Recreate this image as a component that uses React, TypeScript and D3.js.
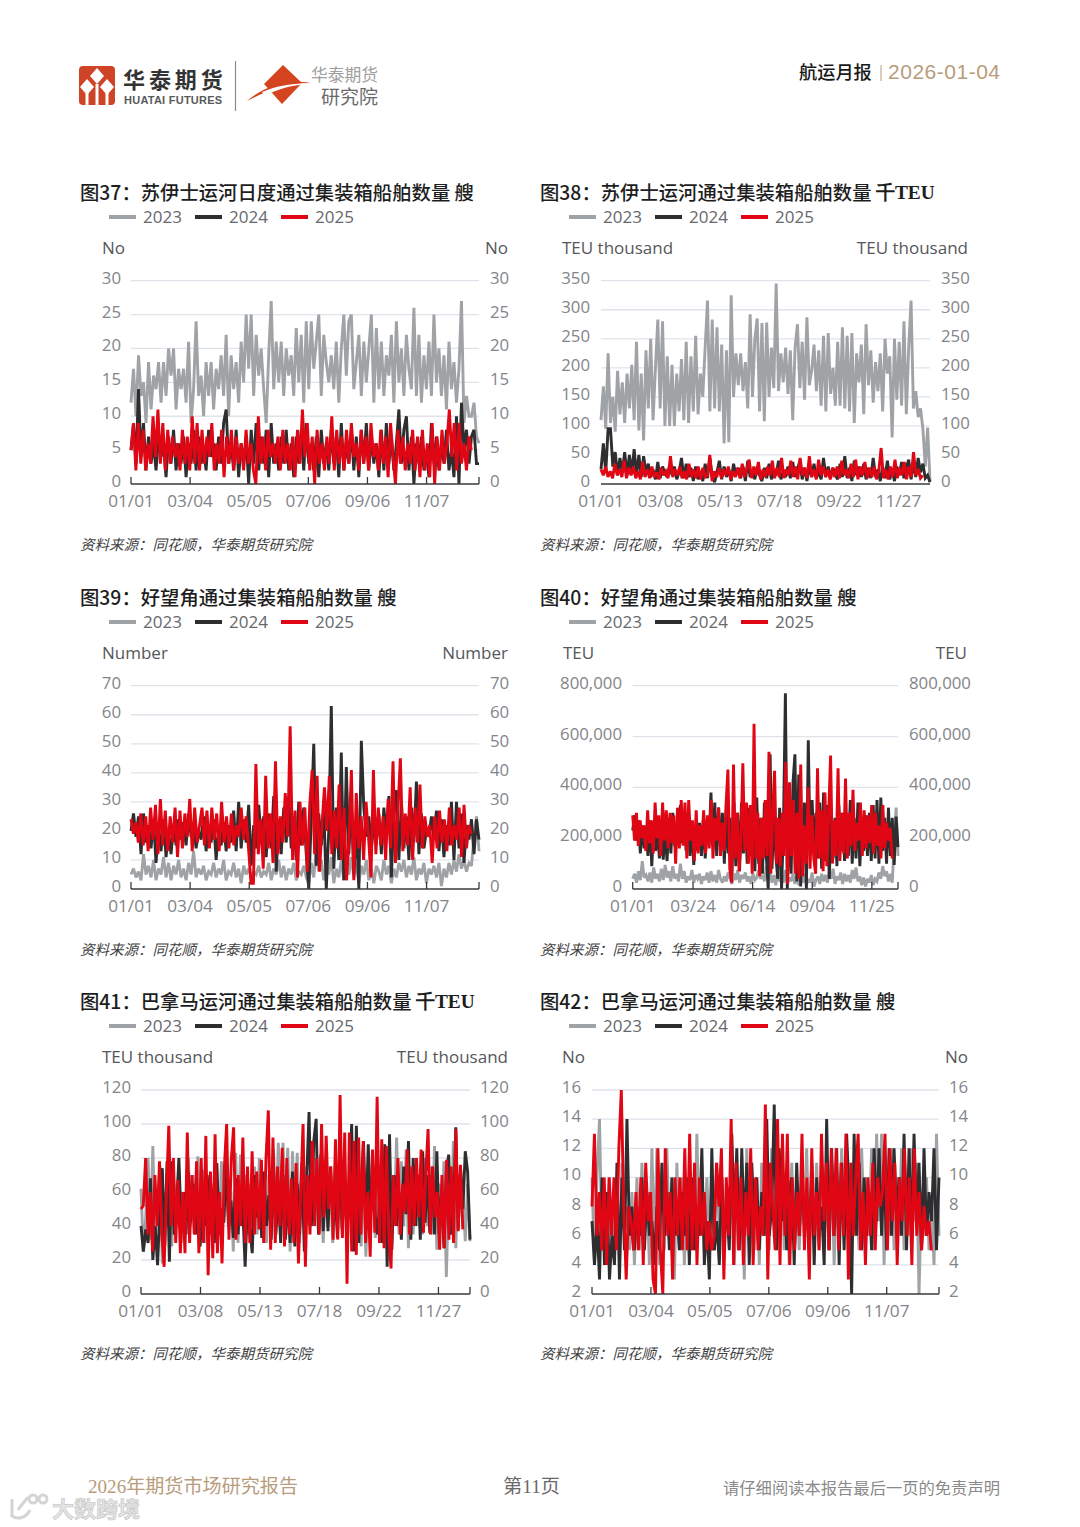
import React from "react";
import * as d3 from "d3";

const years = ["2023", "2024", "2025"];
const colors = ["#A0A3A6", "#2E2E30", "#E00613"];

const labels62 = ["01/01", "03/04", "05/05", "07/06", "09/06", "11/07"];
const days62 = [0, 62, 124, 186, 248, 310];
const labels66 = ["01/01", "03/08", "05/13", "07/18", "09/22", "11/27"];
const days66 = [0, 66, 132, 198, 264, 330];
const labels83 = ["01/01", "03/24", "06/14", "09/04", "11/25"];
const days83 = [0, 83, 165, 247, 329];

const a37 = [12,17,10,19,13,15,9,18,11,16,14,18,12,18,13,20,16,20,11,17,
14,17,12,21,9,14,24,13,16,10,18,13,18,11,17,14,19,13,22,10,
19,14,18,12,21,15,25,17,25,13,22,16,20,14,9,19,27,14,21,15,
21,13,20,16,19,13,23,15,22,12,24,14,24,17,21,25,13,22,18,15,
19,14,21,12,20,25,16,24,25,14,18,22,13,21,15,20,25,12,23,14,
21,13,19,16,22,12,24,15,20,13,22,17,14,26,13,22,12,19,14,21,
13,25,15,20,13,19,11,21,14,18,12,17,27,9,13,10,10,12,7,6];
const b37 = [5,9,3,14,4,9,2,7,3,6,2,7,4,6,1,7,3,8,2,6,
3,7,1,6,3,8,2,7,3,5,2,8,4,6,2,7,3,9,11,3,
6,2,8,1,6,3,7,0,8,3,9,2,7,3,8,1,9,3,6,2,
7,3,8,2,6,1,7,3,8,2,9,3,6,2,7,1,8,3,6,2,
8,3,7,1,9,2,6,3,8,2,7,1,8,3,9,2,7,3,6,1,
8,2,9,3,7,2,6,11,3,8,10,2,7,0,6,3,7,2,5,1,
9,3,7,2,6,3,8,2,5,1,10,0,12,5,8,3,7,8,3,3];
const c37 = [5,9,2,9,3,8,2,6,3,10,4,11,3,9,2,8,3,7,4,6,
2,8,3,7,2,10,3,9,2,8,3,7,4,9,2,6,3,8,1,7,
3,8,2,7,3,6,2,8,3,6,2,0,10,3,7,2,8,4,6,3,
7,2,8,3,6,2,7,1,8,3,11,4,9,2,7,0,8,3,6,2,
7,3,10,2,8,3,7,2,8,3,9,4,6,2,8,3,7,2,9,4,
6,2,8,3,7,1,9,4,0,8,3,7,2,6,3,8,2,7,1,8,
2,6,1,9,0,7,2,8,3,6,11,4,9,2,9,3,6,2,7,5];

const a38 = [110,168,95,225,105,150,90,195,120,175,105,190,130,205,110,245,92,190,75,230,
130,250,110,200,283,130,280,100,220,100,205,100,190,125,215,110,245,105,220,125,
255,120,190,150,235,316,125,283,130,270,125,240,70,230,72,325,150,225,170,225,
160,210,130,292,150,250,285,125,277,108,278,150,235,165,345,160,225,175,235,155,
230,110,235,275,165,245,145,287,170,195,240,160,230,135,255,125,260,155,200,135,
245,135,270,130,255,125,260,105,225,175,240,120,275,170,230,140,210,160,225,125,
250,190,220,80,250,145,245,135,280,120,235,316,130,160,115,130,95,30,97,5];
const b38 = [25,70,20,95,95,30,55,15,45,20,55,15,50,18,60,15,50,12,48,20,
35,12,25,8,38,10,30,18,12,33,15,30,8,20,45,10,35,12,28,5,
30,8,22,5,35,10,45,12,3,20,40,8,30,12,25,5,35,15,28,10,
30,5,40,12,25,8,30,15,5,28,10,35,8,25,15,40,8,20,12,30,
10,38,12,25,40,8,28,5,30,12,35,10,22,8,45,12,30,10,28,15,
8,35,12,48,10,28,5,40,15,30,12,35,8,28,10,45,12,25,5,30,
10,40,8,25,5,30,15,38,10,28,42,8,35,12,45,20,35,10,15,3];
const c38 = [25,15,30,12,22,10,35,15,25,12,40,10,28,15,30,10,22,8,38,12,
25,10,30,12,20,8,28,15,22,10,48,12,25,15,30,10,22,8,35,12,
25,10,30,8,28,12,15,50,5,22,12,28,10,25,15,30,8,22,12,28,
10,35,12,25,42,10,30,15,38,8,25,12,30,15,40,10,28,12,45,10,
25,15,40,12,30,8,45,15,28,10,48,12,25,8,42,15,30,12,25,8,
28,12,30,10,40,15,25,10,35,12,42,8,30,15,38,10,28,12,30,8,
22,62,10,25,8,30,12,42,10,28,15,38,8,30,12,55,15,25,10,15];

const a39 = [5,7,4,6,3,12,5,8,4,10,3,7,5,11,4,9,3,8,5,10,
4,7,3,9,5,13,4,7,5,8,3,6,5,9,4,7,5,10,3,6,
5,9,4,7,2,8,5,7,4,6,5,8,4,6,5,9,3,7,5,10,
4,8,3,7,5,9,3,6,5,8,4,2,9,4,13,6,10,3,8,5,
11,2,7,4,10,3,8,5,11,4,9,2,8,5,10,3,7,2,8,6,
3,10,5,8,2,7,4,9,6,10,4,8,5,11,3,7,5,9,2,7,
5,8,4,9,1,7,4,9,5,10,6,12,7,10,6,9,8,18,25,13];
const b39 = [20,26,18,25,12,26,16,22,14,24,9,22,13,24,11,20,12,22,15,24,
17,23,15,26,18,22,14,20,17,25,13,22,16,24,10,21,15,23,13,22,
16,27,13,30,14,24,16,29,8,22,14,29,18,25,11,26,14,32,6,24,
12,28,16,32,14,25,10,30,15,28,12,0,24,50,8,26,15,28,0,20,
63,7,28,10,47,3,42,12,30,5,22,0,51,28,18,25,14,22,16,26,
12,28,18,32,4,26,34,10,30,14,25,10,28,16,37,12,26,14,20,18,
25,17,27,13,24,11,22,15,30,10,30,14,26,9,22,17,24,12,24,17];
const c39 = [24,19,23,16,26,15,25,13,28,17,29,12,31,15,27,13,25,16,28,11,
27,14,26,18,31,13,28,16,22,28,15,27,14,28,17,26,13,30,16,25,
14,26,15,22,18,28,17,25,14,2,2,43,12,24,7,39,14,26,9,44,
12,25,16,33,18,56,10,27,4,30,15,28,6,29,41,12,39,6,22,35,
20,39,12,27,14,36,10,28,3,16,41,3,33,14,25,10,30,18,4,41,
12,28,15,25,10,31,14,44,9,27,45,13,26,15,35,10,28,16,36,14,
25,18,22,9,25,14,27,16,24,13,28,15,22,17,28,11,29,14,22,19];

const a40 = [40,60,25,70,35,110,45,55,30,65,25,85,40,60,30,80,35,95,45,70,
30,90,40,60,30,100,40,70,25,50,35,75,25,55,40,60,20,50,35,65,
25,70,30,55,25,75,40,25,50,30,65,40,20,60,35,75,25,55,40,65,
30,50,20,60,35,45,75,40,55,30,90,35,60,25,55,15,70,30,50,25,
75,20,45,30,60,20,55,15,50,25,60,15,40,25,65,10,35,50,20,60,
30,55,25,70,40,80,20,50,35,65,20,60,30,55,25,75,40,85,30,50,
15,45,10,40,25,55,15,40,30,65,40,90,50,70,30,60,25,180,320,130];
const b40 = [230,290,190,270,140,250,160,230,130,270,90,260,150,230,120,250,115,230,110,280,
140,300,170,250,210,330,180,260,150,300,130,250,95,240,150,260,130,270,120,240,
190,380,170,340,130,320,160,300,100,310,140,280,60,340,90,300,70,340,140,290,
100,320,130,290,70,360,100,280,60,340,130,0,530,80,300,130,40,320,0,250,
770,0,280,60,420,530,30,450,10,260,340,0,585,130,350,140,300,120,340,80,
380,110,330,40,300,120,280,90,330,150,300,110,260,130,350,100,280,120,340,90,
250,150,290,130,300,110,330,120,350,100,360,150,280,100,320,130,280,95,285,165];
const c40 = [290,190,300,170,270,200,250,150,310,180,270,140,340,200,290,130,340,190,310,160,
300,180,290,100,320,160,350,170,340,120,350,190,270,110,310,140,250,170,310,140,
290,160,350,120,280,190,320,130,260,150,330,470,80,25,490,120,300,70,200,495,
150,340,100,330,60,650,120,300,50,280,120,350,130,540,60,300,465,100,280,90,
300,130,500,20,420,130,350,60,300,40,490,50,250,100,400,80,290,120,60,475,
120,310,70,380,90,300,525,100,270,130,475,110,300,140,435,120,300,170,390,150,
260,190,340,130,310,160,290,180,330,140,300,170,250,120,330,160,260,190,240,120];

const a41 = [62,25,45,80,32,87,30,55,75,18,60,40,70,28,65,45,75,30,60,35,
80,40,70,35,81,45,73,30,68,38,65,40,77,35,78,45,68,38,60,25,
83,30,82,45,70,35,65,40,75,35,80,40,60,30,70,35,85,40,89,50,
89,45,86,25,84,40,83,30,70,35,75,40,65,45,80,35,60,30,72,40,
65,30,75,40,60,35,78,40,70,45,72,35,68,28,80,22,60,50,72,33,
75,40,82,30,70,38,65,45,92,35,78,40,85,27,70,35,75,40,65,35,
80,40,70,35,87,26,65,40,78,10,60,35,90,27,70,50,60,31,65,31];
const b41 = [40,25,38,30,68,20,40,17,50,74,28,78,19,78,35,50,80,40,60,35,
72,42,65,35,55,28,60,40,70,35,62,30,77,40,50,42,78,40,55,33,
68,35,60,50,16,55,38,24,70,45,60,33,72,40,58,32,75,35,62,30,
70,32,55,30,72,28,65,35,77,25,68,107,40,90,103,35,82,37,70,37,
75,50,60,33,80,38,70,35,65,100,25,99,30,60,90,38,88,50,70,45,
35,60,30,88,16,94,26,70,40,60,32,75,47,90,32,80,40,70,32,84,
42,70,36,75,35,84,35,60,27,72,82,35,45,98,38,74,50,84,72,32];
const c41 = [50,52,80,35,60,25,70,40,78,35,16,60,99,40,80,30,67,24,60,24,
95,30,70,35,78,24,80,30,93,11,72,21,94,24,60,18,74,100,32,79,
98,32,70,40,92,30,75,30,84,35,72,38,79,30,80,108,26,92,30,75,
40,86,28,80,35,68,30,77,18,60,100,16,70,35,90,40,80,35,100,45,
93,50,75,32,91,32,117,33,95,6,95,25,90,23,92,35,90,30,60,22,
85,36,116,30,91,27,87,35,15,70,40,80,35,65,48,85,35,75,40,80,
45,85,36,70,97,35,75,45,60,26,70,27,79,32,75,30,97,37,76,38];

const a42 = [10,4,10,14,5,9,4,10,5,8,10,4,11,6,8,5,9,4,10,5,
11,6,9,4,12,5,12,4,9,5,12,6,8,3,11,5,10,4,9,6,
10,5,13,6,11,5,10,6,9,5,11,6,10,5,8,6,11,4,9,5,
11,3,12,6,9,5,10,4,11,6,10,5,12,7,9,6,11,5,10,4,
11,6,10,5,9,6,12,5,10,6,11,5,10,6,9,5,11,4,10,5,
12,6,10,7,11,6,9,5,12,7,10,6,12,5,13,7,13,4,10,6,
12,5,10,6,12,5,10,6,12,7,11,2,9,6,10,5,8,4,13,6];
const b42 = [7,4,7,3,10,4,9,3,6,4,11,3,10,5,14,6,8,5,8,6,
10,5,9,6,7,4,8,5,11,6,9,5,10,6,8,5,9,6,10,4,
10,5,8,6,12,4,7,3,12,5,7,4,10,6,8,5,13,7,12,5,
12,6,11,4,11,7,10,5,9,6,14,6,8,15,5,12,7,10,5,9,
10,4,11,6,10,7,9,5,11,4,10,6,8,4,14,5,12,6,12,4,
11,5,13,9,2,13,6,11,5,10,6,9,5,12,7,12,6,11,5,12,
6,12,7,10,6,13,5,12,6,13,7,11,5,12,6,9,7,12,5,10];
const c42 = [8,13,6,9,5,10,4,10,6,10,5,12,16,8,3,8,7,5,9,5,
10,4,11,7,9,3,2,12,5,2,12,6,9,3,10,6,10,5,12,5,
13,5,11,4,10,6,9,5,7,5,6,11,8,12,3,10,6,14,4,11,
5,10,4,9,6,12,4,10,5,8,6,15,3,11,8,5,14,4,13,6,
13,4,10,5,9,6,13,5,10,3,12,6,9,5,13,7,11,5,12,6,
12,5,11,6,13,3,11,6,10,13,5,9,4,10,6,11,5,10,8,9,
13,5,12,7,11,4,10,7,12,6,10,4,12,6,9,5,8,6,7,5];

const SANS = "'Open Sans','Noto Sans CJK SC',sans-serif";
const CJK = "'Noto Sans CJK SC',sans-serif";
const GRID = "#E1E3EB";
const TICK = "#838589";
const UNIT = "#55575A";

type PanelProps = {
  ox: number; oy: number; num: string; name: string; suffix: string; serifSuffix?: boolean;
  unit: string; yMax: number; yMin?: number; yStep: number; fmt?: (v: number) => string;
  x0: number; x1: number; yTop: number; yBottom: number; leftEnd: number; rightStart: number;
  unitLeft: number; unitRight: number; labels: string[]; days: number[]; ticks?: boolean;
  series: number[][];
};

function Panel(p: PanelProps) {
  const yMin = p.yMin ?? 0;
  const y = d3.scaleLinear().domain([yMin, p.yMax]).range([p.yBottom, p.yTop]);
  const x = d3.scaleLinear().domain([0, 365]).range([p.x0, p.x1]);
  const tv = d3.range(yMin, p.yMax + 0.001, p.yStep);
  const fmt = p.fmt ?? ((v: number) => String(v));
  const paths = p.series.map((vals, si) => {
    const endDay = si === 2 ? 357 : 365;
    const gen = d3.line<number>()
      .x((_, i) => x((i / (vals.length - 1)) * endDay))
      .y((d) => y(d))
      .curve(d3.curveLinear);
    return gen(vals) as string;
  });
  const legendXs = [0, 86, 172];
  return (
    <g>
      <text x={p.ox} y={p.oy - 1.5} dominantBaseline="central" fontFamily={CJK} fontWeight={500} fontSize={19.35} fill="#1E1E1E">
        {`图${p.num}：${p.name} `}
        <tspan fontFamily={p.serifSuffix ? "'Liberation Serif',serif" : CJK} fontWeight={p.serifSuffix ? 700 : 500}>{p.suffix}</tspan>
      </text>
      {years.map((yr, i) => (
        <g key={yr}>
          <line x1={p.ox + 29 + legendXs[i]} x2={p.ox + 56 + legendXs[i]} y1={p.oy + 24} y2={p.oy + 24} stroke={colors[i]} strokeWidth={4} />
          <text x={p.ox + 63 + legendXs[i]} y={p.oy + 23} dominantBaseline="central" fontFamily={SANS} fontSize={17} fill="#66686B">{yr}</text>
        </g>
      ))}
      <text x={p.unitLeft} y={p.oy + 54} dominantBaseline="central" fontFamily={SANS} fontSize={17} fill={UNIT}>{p.unit}</text>
      <text x={p.unitRight} y={p.oy + 54} textAnchor="end" dominantBaseline="central" fontFamily={SANS} fontSize={17} fill={UNIT}>{p.unit}</text>
      {tv.filter((v) => v !== yMin).map((v) => (
        <line key={v} x1={p.x0} x2={p.x1} y1={y(v)} y2={y(v)} stroke={GRID} strokeWidth={1.3} />
      ))}
      {tv.map((v) => (
        <g key={v} fontFamily={SANS} fontSize={16.8} fill={TICK} dominantBaseline="central">
          <text x={p.leftEnd} y={y(v) - 3.5} textAnchor="end">{fmt(v)}</text>
          <text x={p.rightStart} y={y(v) - 3.5}>{fmt(v)}</text>
        </g>
      ))}
      {paths.map((d, i) => (
        <path key={i} d={d} fill="none" stroke={colors[i]} strokeWidth={2.9} strokeLinejoin="miter" strokeMiterlimit={2.5} />
      ))}
      <line x1={p.x0} x2={p.x1} y1={p.yBottom} y2={p.yBottom} stroke="#3A3A3C" strokeWidth={1.3} />
      {(p.ticks ?? true) && [...p.days, 365].map((d) => (
        <line key={d} x1={x(d)} x2={x(d)} y1={p.yBottom} y2={p.yBottom - 7} stroke="#3A3A3C" strokeWidth={1.3} />
      ))}
      {p.labels.map((l, i) => (
        <text key={l} x={x(p.days[i])} y={p.yBottom + 16.5} textAnchor="middle" dominantBaseline="central" fontFamily={SANS} fontSize={17.2} fill={TICK}>{l}</text>
      ))}
      <text x={p.ox} y={p.oy + 350} dominantBaseline="central" fontFamily={CJK} fontStyle="italic" fontSize={14.5} fill="#3F3F3F">资料来源：同花顺，华泰期货研究院</text>
    </g>
  );
}

function Header() {
  return (
    <g>
      <rect x={79} y={66} width={36} height={39} rx={4} fill="#CF4327" />
      <path d="M97 68 L104 76 L97 84 L90 76 Z M87 79 L94 87 L87 95 L80 87 Z M107 79 L114 87 L107 95 L100 87 Z" fill="#FFFFFF" />
      <path d="M85.5 93 h3 v12 h-3 Z M95.5 84 h3 v21 h-3 Z M105.5 93 h3 v12 h-3 Z" fill="#FFFFFF" />
      <text x={123} y={78} dominantBaseline="central" fontFamily={CJK} fontWeight={700} fontSize={22} letterSpacing={3.9} fill="#333333">华泰期货</text>
      <text x={124} y={100} dominantBaseline="central" fontFamily="'Liberation Sans',sans-serif" fontWeight={700} fontSize={11} letterSpacing={0.25} fill="#5A5A5A">HUATAI FUTURES</text>
      <line x1={235.5} x2={235.5} y1={61} y2={111} stroke="#8A8A8A" strokeWidth={1.2} />
      <path d="M283 65 L302 83 L282 104 L264 84 Z" fill="#D4441F" />
      <path d="M247 101 C262 88 285 78 311 83 C288 83 268 90 247 101 Z" fill="#D4441F" />
      <path d="M262 92 C278 85 295 83 311 83.5 C295 85 278 88 265 96 Z" fill="#FFFFFF" />
      <text x={311} y={74} dominantBaseline="central" fontFamily={CJK} fontSize={16.8} fill="#A0A0A0">华泰期货</text>
      <text x={321} y={95.5} dominantBaseline="central" fontFamily={CJK} fontSize={19} fill="#6A6A6A">研究院</text>
      <text x={799} y={70.5} dominantBaseline="central" fontFamily={CJK} fontWeight={500} fontSize={18.2} fill="#1A1A1A">航运月报</text>
      <line x1={881} x2={881} y1={65} y2={81} stroke="#B89C7C" strokeWidth={1} />
      <text x={888} y={71} dominantBaseline="central" fontFamily="'Liberation Sans',sans-serif" fontSize={21} textLength={112} lengthAdjust="spacing" fill="#B89C7C">2026-01-04</text>
    </g>
  );
}

function Footer() {
  return (
    <g>
      <text x={88} y={1486} dominantBaseline="central" fontFamily="'Liberation Serif','Noto Sans CJK SC',serif" fontSize={19} textLength={210} lengthAdjust="spacingAndGlyphs" fill="#B89C7C">2026年期货市场研究报告</text>
      <text x={503} y={1486} dominantBaseline="central" fontFamily="'Liberation Serif','Noto Sans CJK SC',serif" fontSize={19} textLength={57} lengthAdjust="spacingAndGlyphs" fill="#6A6A6A">第11页</text>
      <text x={723} y={1487} dominantBaseline="central" fontFamily={CJK} fontSize={16.2} textLength={277} lengthAdjust="spacingAndGlyphs" fill="#8A8A8A">请仔细阅读本报告最后一页的免责声明</text>
      <g fill="none" stroke="#D4D4D4" strokeWidth={3}>
        <path d="M12 1499 L12 1516 C18 1520 26 1518 30 1510" />
        <path d="M18 1510 C22 1504 26 1500 28 1497" />
        <circle cx={33} cy={1499} r={4} />
        <circle cx={43} cy={1499} r={4} />
      </g>
      <text x={52} y={1507} dominantBaseline="central" fontFamily={CJK} fontWeight={700} fontSize={22} fill="#E4E4E4" stroke="#C4C4C4" strokeWidth={0.6}>大数跨境</text>
    </g>
  );
}

export default function App() {
  return (
    <svg width={1080} height={1527} viewBox="0 0 1080 1527" style={{ position: "absolute", left: 0, top: 0, background: "#FFFFFF" }}>
      <Header />
      <Panel ox={80} oy={193} num="37" name="苏伊士运河日度通过集装箱船舶数量" suffix="艘" unit="No" yMax={30} yStep={5}
        x0={131} x1={479} yTop={280.7} yBottom={484} leftEnd={121} rightStart={490} unitLeft={102} unitRight={508}
        labels={labels62} days={days62} series={[a37, b37, c37]} />
      <Panel ox={540} oy={193} num="38" name="苏伊士运河通过集装箱船舶数量" suffix="千TEU" serifSuffix unit="TEU thousand" yMax={350} yStep={50}
        x0={601} x1={930} yTop={280.7} yBottom={484} leftEnd={590} rightStart={941} unitLeft={562} unitRight={968}
        labels={labels66} days={days66} ticks={false} series={[a38, b38, c38]} />
      <Panel ox={80} oy={598} num="39" name="好望角通过集装箱船舶数量" suffix="艘" unit="Number" yMax={70} yStep={10}
        x0={131} x1={479} yTop={685.7} yBottom={889} leftEnd={121} rightStart={490} unitLeft={102} unitRight={508}
        labels={labels62} days={days62} series={[a39, b39, c39]} />
      <Panel ox={540} oy={598} num="40" name="好望角通过集装箱船舶数量" suffix="艘" unit="TEU" yMax={800} yStep={200}
        fmt={(v) => (v === 0 ? "0" : d3.format(",")(v * 1000))}
        x0={632.7} x1={898} yTop={685.7} yBottom={889} leftEnd={622} rightStart={909} unitLeft={563} unitRight={967}
        labels={labels83} days={days83} series={[a40, b40, c40]} />
      <Panel ox={80} oy={1002} num="41" name="巴拿马运河通过集装箱船舶数量" suffix="千TEU" serifSuffix unit="TEU thousand" yMax={120} yStep={20}
        x0={141} x1={470} yTop={1090} yBottom={1294} leftEnd={131} rightStart={480} unitLeft={102} unitRight={508}
        labels={labels66} days={days66} series={[a41, b41, c41]} />
      <Panel ox={540} oy={1002} num="42" name="巴拿马运河通过集装箱船舶数量" suffix="艘" unit="No" yMax={16} yMin={2} yStep={2}
        x0={592} x1={939} yTop={1090} yBottom={1294} leftEnd={581} rightStart={949} unitLeft={562} unitRight={968}
        labels={labels62} days={days62} series={[a42, b42, c42]} />
      <Footer />
    </svg>
  );
}
